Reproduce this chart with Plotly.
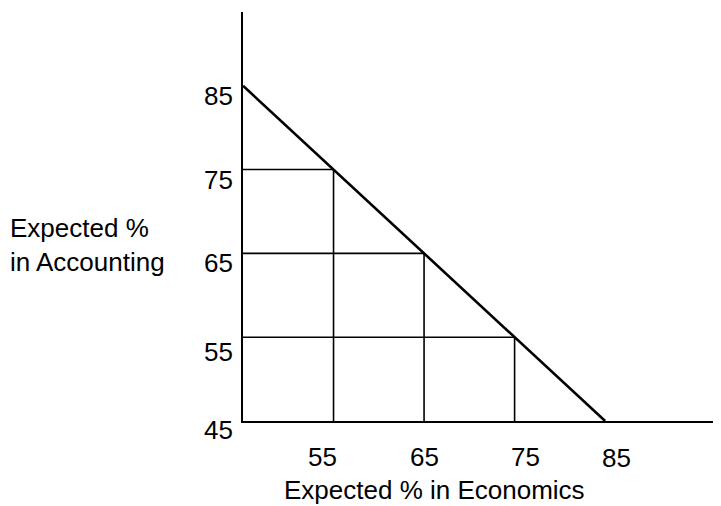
import plotly.graph_objects as go

# ---- data ----
tick_vals = [45, 55, 65, 75, 85]
tick_labels = ["45", "55", "65", "75", "85"]
x_tick_vals = [55, 65, 75, 85]
x_tick_labels = ["55", "65", "75", "85"]
budget_econ = [45, 85]     # Expected % in Economics along the budget line
budget_acct = [85, 45]     # Expected % in Accounting along the budget line
grid_points = [55, 65, 75]  # corner points lying on the budget line
total = 130                 # econ + accounting on the budget line
x_title = "Expected % in Economics"
y_title = "Expected %<br>in Accounting"

FONT = "Liberation Sans, Arial, sans-serif"
FS = 26

fig = go.Figure()

# grid boxes under the line
for v in grid_points:
    other = total - v
    fig.add_trace(go.Scatter(x=[45, v], y=[other, other], mode="lines",
                             line=dict(color="black", width=1.6), hoverinfo="skip"))
    fig.add_trace(go.Scatter(x=[v, v], y=[45, other], mode="lines",
                             line=dict(color="black", width=1.6), hoverinfo="skip"))

# budget line
fig.add_trace(go.Scatter(x=budget_econ, y=budget_acct, mode="lines",
                         line=dict(color="black", width=2.6), hoverinfo="skip"))

annotations = []
# y tick labels
y_shift = [-9, -15, -10, -10, -10]
for v, t, s in zip(tick_vals, tick_labels, y_shift):
    annotations.append(dict(x=45, y=v, xref="x", yref="y", text=t, showarrow=False,
                            xanchor="center", yanchor="middle", xshift=-25, yshift=s,
                            font=dict(family=FONT, size=FS, color="black")))
# x tick labels
x_shift = [-11, 0, 11, 11]
x_yshift = [-36, -36, -36, -37]
for v, t, s, ys in zip(x_tick_vals, x_tick_labels, x_shift, x_yshift):
    annotations.append(dict(x=v, y=45, xref="x", yref="y", text=t, showarrow=False,
                            xanchor="center", yanchor="middle", xshift=s, yshift=ys,
                            font=dict(family=FONT, size=FS, color="black")))
# axis titles
annotations.append(dict(x=0.40, y=-0.169, xref="paper", yref="paper", text=x_title,
                        showarrow=False, xanchor="center", yanchor="middle",
                        font=dict(family=FONT, size=FS, color="black")))
annotations.append(dict(x=-0.4916, y=0.430, xref="paper", yref="paper", text=y_title,
                        showarrow=False, xanchor="left", yanchor="middle", align="left",
                        font=dict(family=FONT, size=FS, color="black")))

fig.update_layout(
    width=713, height=498,
    margin=dict(l=235, r=0, t=4, b=85),
    paper_bgcolor="white", plot_bgcolor="white",
    showlegend=False,
    annotations=annotations,
    xaxis=dict(range=[45, 97.8], showgrid=False, zeroline=False, showticklabels=False,
               ticks="", showline=True, linecolor="black", linewidth=2, fixedrange=True),
    yaxis=dict(range=[45, 93.8], showgrid=False, zeroline=False, showticklabels=False,
               ticks="", showline=True, linecolor="black", linewidth=2, fixedrange=True),
)

fig.write_html("out.html", config={"displayModeBar": False})
